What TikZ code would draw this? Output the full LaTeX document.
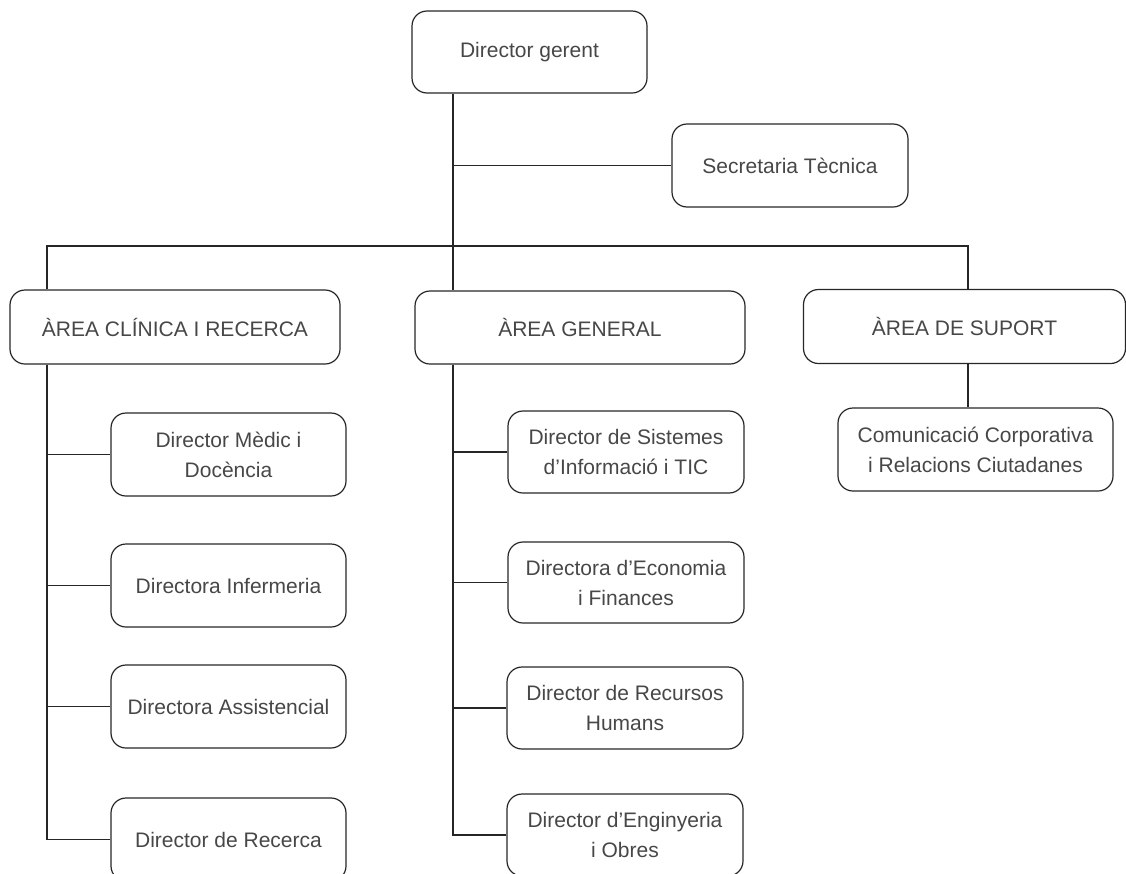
\documentclass[tikz,border=0pt]{standalone}
\usepackage{fontspec}
\setmainfont{Liberation Sans}
\begin{document}
\begin{tikzpicture}[x=1pt,y=-1pt,
  box/.style={draw=black!85, line width=1.2pt, rounded corners=15pt, align=center, inner sep=0pt,
    font=\fontsize{21}{30}\selectfont, text=black!72},
  link/.style={draw=black!85, line width=1.2pt}]
\useasboundingbox (0,0) rectangle (1126,873);
\clip (0,0) rectangle (1126,873);
% top
\node[box, minimum width=235pt, minimum height=82pt] (gerent) at (529.5,52) {Director gerent};
\node[box, minimum width=236pt, minimum height=83pt] (secretaria) at (790,165.5) {Secretaria Tècnica};
% areas
\node[box, minimum width=330pt, minimum height=74pt] (clinica) at (175,327) {ÀREA CLÍNICA I RECERCA};
\node[box, minimum width=330pt, minimum height=73pt] (general) at (580,327.5) {ÀREA GENERAL};
\node[box, minimum width=322pt, minimum height=74pt] (suport) at (964.5,326.5) {ÀREA DE SUPORT};
% left column
\node[box, minimum width=235pt, minimum height=83pt] (medic) at (228.5,454.5) {Director Mèdic i\\Docència};
\node[box, minimum width=235pt, minimum height=83pt] (infermeria) at (228.5,585.5) {Directora Infermeria};
\node[box, minimum width=235pt, minimum height=83pt] (assistencial) at (228.5,706.5) {Directora Assistencial};
\node[box, minimum width=235pt, minimum height=83pt] (recerca) at (228.5,839.5) {Director de Recerca};
% middle column
\node[box, minimum width=236pt, minimum height=82pt] (sistemes) at (626,452) {Director de Sistemes\\d’Informació i TIC};
\node[box, minimum width=236pt, minimum height=81pt] (economia) at (626,582.5) {Directora d’Economia\\i Finances};
\node[box, minimum width=236pt, minimum height=82pt] (recursos) at (625,708) {Director de Recursos\\Humans};
\node[box, minimum width=236pt, minimum height=82pt] (enginyeria) at (625,835) {Director d’Enginyeria\\i Obres};
% right column
\node[box, minimum width=275pt, minimum height=83pt] (comunicacio) at (975.5,449.5) {Comunicació Corporativa\\i Relacions Ciutadanes};
% junction coordinates
\coordinate (tm) at (453,0);
\coordinate (hl) at (47,246);
\coordinate (hr) at (968,246);
% connectors
\draw[link] (gerent.south -| tm) -- (general.north -| tm);
\draw[link] (secretaria.west -| tm) -- (secretaria.west);
\draw[link] (clinica.north -| hl) -- (hl) -- (hr) -- (suport.north -| hr);
% left trunk
\draw[link] (clinica.south -| hl) -- (recerca.west -| hl) -- (recerca.west);
\draw[link] (medic.west -| hl) -- (medic.west);
\draw[link] (infermeria.west -| hl) -- (infermeria.west);
\draw[link] (assistencial.west -| hl) -- (assistencial.west);
% middle trunk
\draw[link] (general.south -| tm) -- (enginyeria.west -| tm) -- (enginyeria.west);
\draw[link] (sistemes.west -| tm) -- (sistemes.west);
\draw[link] (economia.west -| tm) -- (economia.west);
\draw[link] (recursos.west -| tm) -- (recursos.west);
% right
\draw[link] (suport.south -| hr) -- (comunicacio.north -| hr);
\end{tikzpicture}
\end{document}
